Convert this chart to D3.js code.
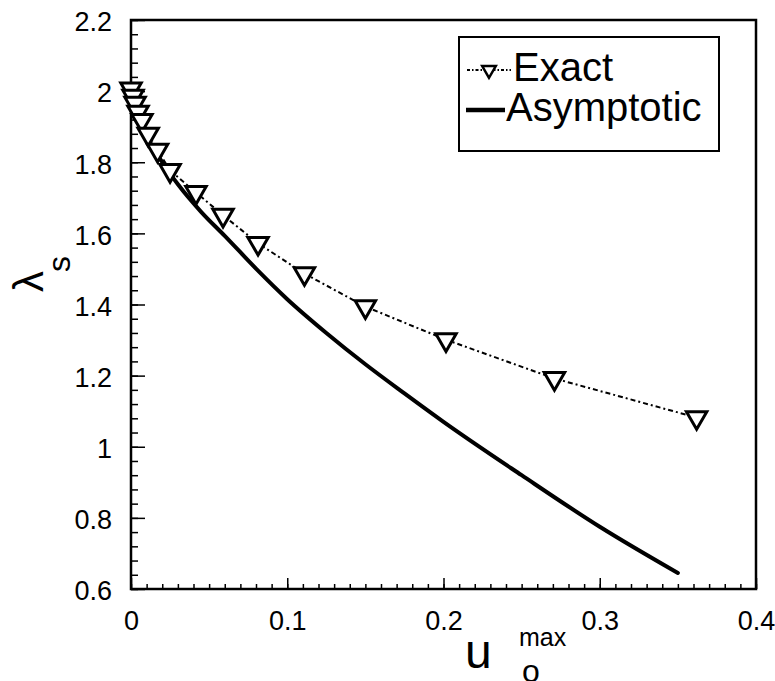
<!DOCTYPE html>
<html>
<head>
<meta charset="utf-8">
<script src="https://cdn.jsdelivr.net/npm/d3@7"></script>
<style>
  body { margin: 0; background: #fff; }
  text { font-family: "Liberation Sans", Arial, Helvetica, sans-serif; fill: #000; }
</style>
</head>
<body>
<script>
// exact solution (triangles)
var exactX = [0.0, 0.0013, 0.0026, 0.0045, 0.007, 0.011, 0.017, 0.025, 0.0416, 0.0589, 0.0813, 0.111, 0.150, 0.2016, 0.271, 0.362];
var exactY = [2.006, 1.986, 1.966, 1.941, 1.918, 1.879, 1.834, 1.777, 1.715, 1.651, 1.572, 1.487, 1.394, 1.301, 1.192, 1.082];

// asymptotic curve (solid)
var asymX = [0, 0.002, 0.005, 0.01, 0.02, 0.03, 0.045, 0.06, 0.08, 0.1, 0.125, 0.15, 0.175, 0.2, 0.25, 0.3, 0.35];
var asymY = [1.99, 1.957, 1.92, 1.874, 1.80, 1.738, 1.66, 1.593, 1.501, 1.415, 1.32, 1.232, 1.15, 1.07, 0.92, 0.775, 0.645];

var xTicks = [0, 0.1, 0.2, 0.3, 0.4];
var xTickLabels = ["0", "0.1", "0.2", "0.3", "0.4"];
var yTicks = [0.6, 0.8, 1, 1.2, 1.4, 1.6, 1.8, 2, 2.2];
var yTickLabels = ["0.6", "0.8", "1", "1.2", "1.4", "1.6", "1.8", "2", "2.2"];
var legendNames = ["Exact", "Asymptotic"];

var mLeft = 131, mTop = 20, w = 625, h = 569;

var svg = d3.select("body")
            .append("svg")
            .attr("width", 775)
            .attr("height", 681);

var x = d3.scaleLinear().domain([0, 0.4]).range([mLeft, mLeft + w]);
var y = d3.scaleLinear().domain([0.6, 2.2]).range([mTop + h, mTop]);

// minor ticks
var xMinor = d3.range(0, 41).map(function(i) { return i / 100; });
var yMinor = d3.range(0, 41).map(function(i) { return 0.6 + i * 0.04; });

svg.append("g")
   .attr("transform", "translate(0," + (mTop + h) + ")")
   .call(d3.axisBottom(x).tickValues(xMinor).tickSize(-5).tickFormat(""))
   .call(function(g) { g.select(".domain").remove(); })
   .selectAll("line").attr("stroke-width", 1.5);

svg.append("g")
   .attr("transform", "translate(" + mLeft + ",0)")
   .call(d3.axisLeft(y).tickValues(yMinor).tickSize(-7).tickFormat(""))
   .call(function(g) { g.select(".domain").remove(); })
   .selectAll("line").attr("stroke-width", 1.5);

// major ticks + labels
var xAxis = svg.append("g")
   .attr("transform", "translate(0," + (mTop + h) + ")")
   .call(d3.axisBottom(x).tickValues(xTicks).tickSize(-11).tickPadding(22)
      .tickFormat(function(d, i) { return xTickLabels[i]; }));
xAxis.select(".domain").remove();
xAxis.selectAll("line").attr("stroke-width", 1.5);
xAxis.selectAll("text").attr("font-size", 27).attr("font-family", "Liberation Sans, Arial, sans-serif");

var yAxis = svg.append("g")
   .attr("transform", "translate(" + mLeft + ",0)")
   .call(d3.axisLeft(y).tickValues(yTicks).tickSize(-14).tickPadding(19)
      .tickFormat(function(d, i) { return yTickLabels[i]; }));
yAxis.select(".domain").remove();
yAxis.selectAll("line").attr("stroke-width", 1.5);
yAxis.selectAll("text").attr("font-size", 27).attr("dy", "0.4em").attr("font-family", "Liberation Sans, Arial, sans-serif");

// frame
svg.append("rect")
   .attr("x", mLeft).attr("y", mTop)
   .attr("width", w).attr("height", h)
   .attr("fill", "none")
   .attr("stroke", "black")
   .attr("stroke-width", 2.5);

// asymptotic line
var asym = asymX.map(function(d, i) { return [d, asymY[i]]; });
var curve = d3.line()
   .x(function(d) { return x(d[0]); })
   .y(function(d) { return y(d[1]); })
   .curve(d3.curveMonotoneX);

svg.append("path")
   .attr("d", curve(asym))
   .attr("fill", "none")
   .attr("stroke", "black")
   .attr("stroke-width", 4)
   .attr("stroke-linecap", "round");

// exact line
var exact = exactX.map(function(d, i) { return [d, exactY[i]]; });
var straight = d3.line()
   .x(function(d) { return x(d[0]); })
   .y(function(d) { return y(d[1]); });

svg.append("path")
   .attr("d", straight(exact))
   .attr("fill", "none")
   .attr("stroke", "black")
   .attr("stroke-width", 2)
   .attr("stroke-dasharray", "5,3,2,3");

var tri = d3.symbol().type(d3.symbolTriangle).size(180);

svg.selectAll(".mark")
   .data(exact)
   .enter().append("path")
   .attr("class", "mark")
   .attr("d", tri)
   .attr("transform", function(d) { return "translate(" + x(d[0]) + "," + y(d[1]) + ") rotate(180)"; })
   .attr("fill", "white")
   .attr("stroke", "black")
   .attr("stroke-width", 3);

// legend
svg.append("rect")
   .attr("x", 459).attr("y", 37)
   .attr("width", 260).attr("height", 114)
   .attr("fill", "white")
   .attr("stroke", "black")
   .attr("stroke-width", 2);

svg.append("line")
   .attr("x1", 467).attr("y1", 70).attr("x2", 511).attr("y2", 70)
   .attr("stroke", "black").attr("stroke-width", 2)
   .attr("stroke-dasharray", "3,2,1.5,2");

svg.append("path")
   .attr("d", d3.symbol().type(d3.symbolTriangle).size(80))
   .attr("transform", "translate(489,70) rotate(180)")
   .attr("fill", "white").attr("stroke", "black").attr("stroke-width", 2.5);

svg.append("text")
   .attr("x", 513).attr("y", 81)
   .attr("font-size", 40)
   .text(legendNames[0]);

svg.append("line")
   .attr("x1", 466).attr("y1", 110).attr("x2", 505).attr("y2", 110)
   .attr("stroke", "black").attr("stroke-width", 4.5);

svg.append("text")
   .attr("x", 506).attr("y", 121)
   .attr("font-size", 40)
   .text(legendNames[1]);

// axis titles
svg.append("text")
   .attr("x", 465).attr("y", 668)
   .attr("font-size", 48)
   .text("u");
svg.append("text").attr("x", 519).attr("y", 646).attr("font-size", 25).text("max");
svg.append("text").attr("x", 522).attr("y", 682).attr("font-size", 32).text("o");

svg.append("text")
   .attr("transform", "translate(43,292) rotate(-90)")
   .attr("font-size", 42)
   .attr("font-family", "DejaVu Sans, sans-serif")
   .text("λ");
svg.append("text")
   .attr("transform", "translate(70,272) rotate(-90)")
   .attr("font-size", 32)
   .text("s");
</script>
</body>
</html>
